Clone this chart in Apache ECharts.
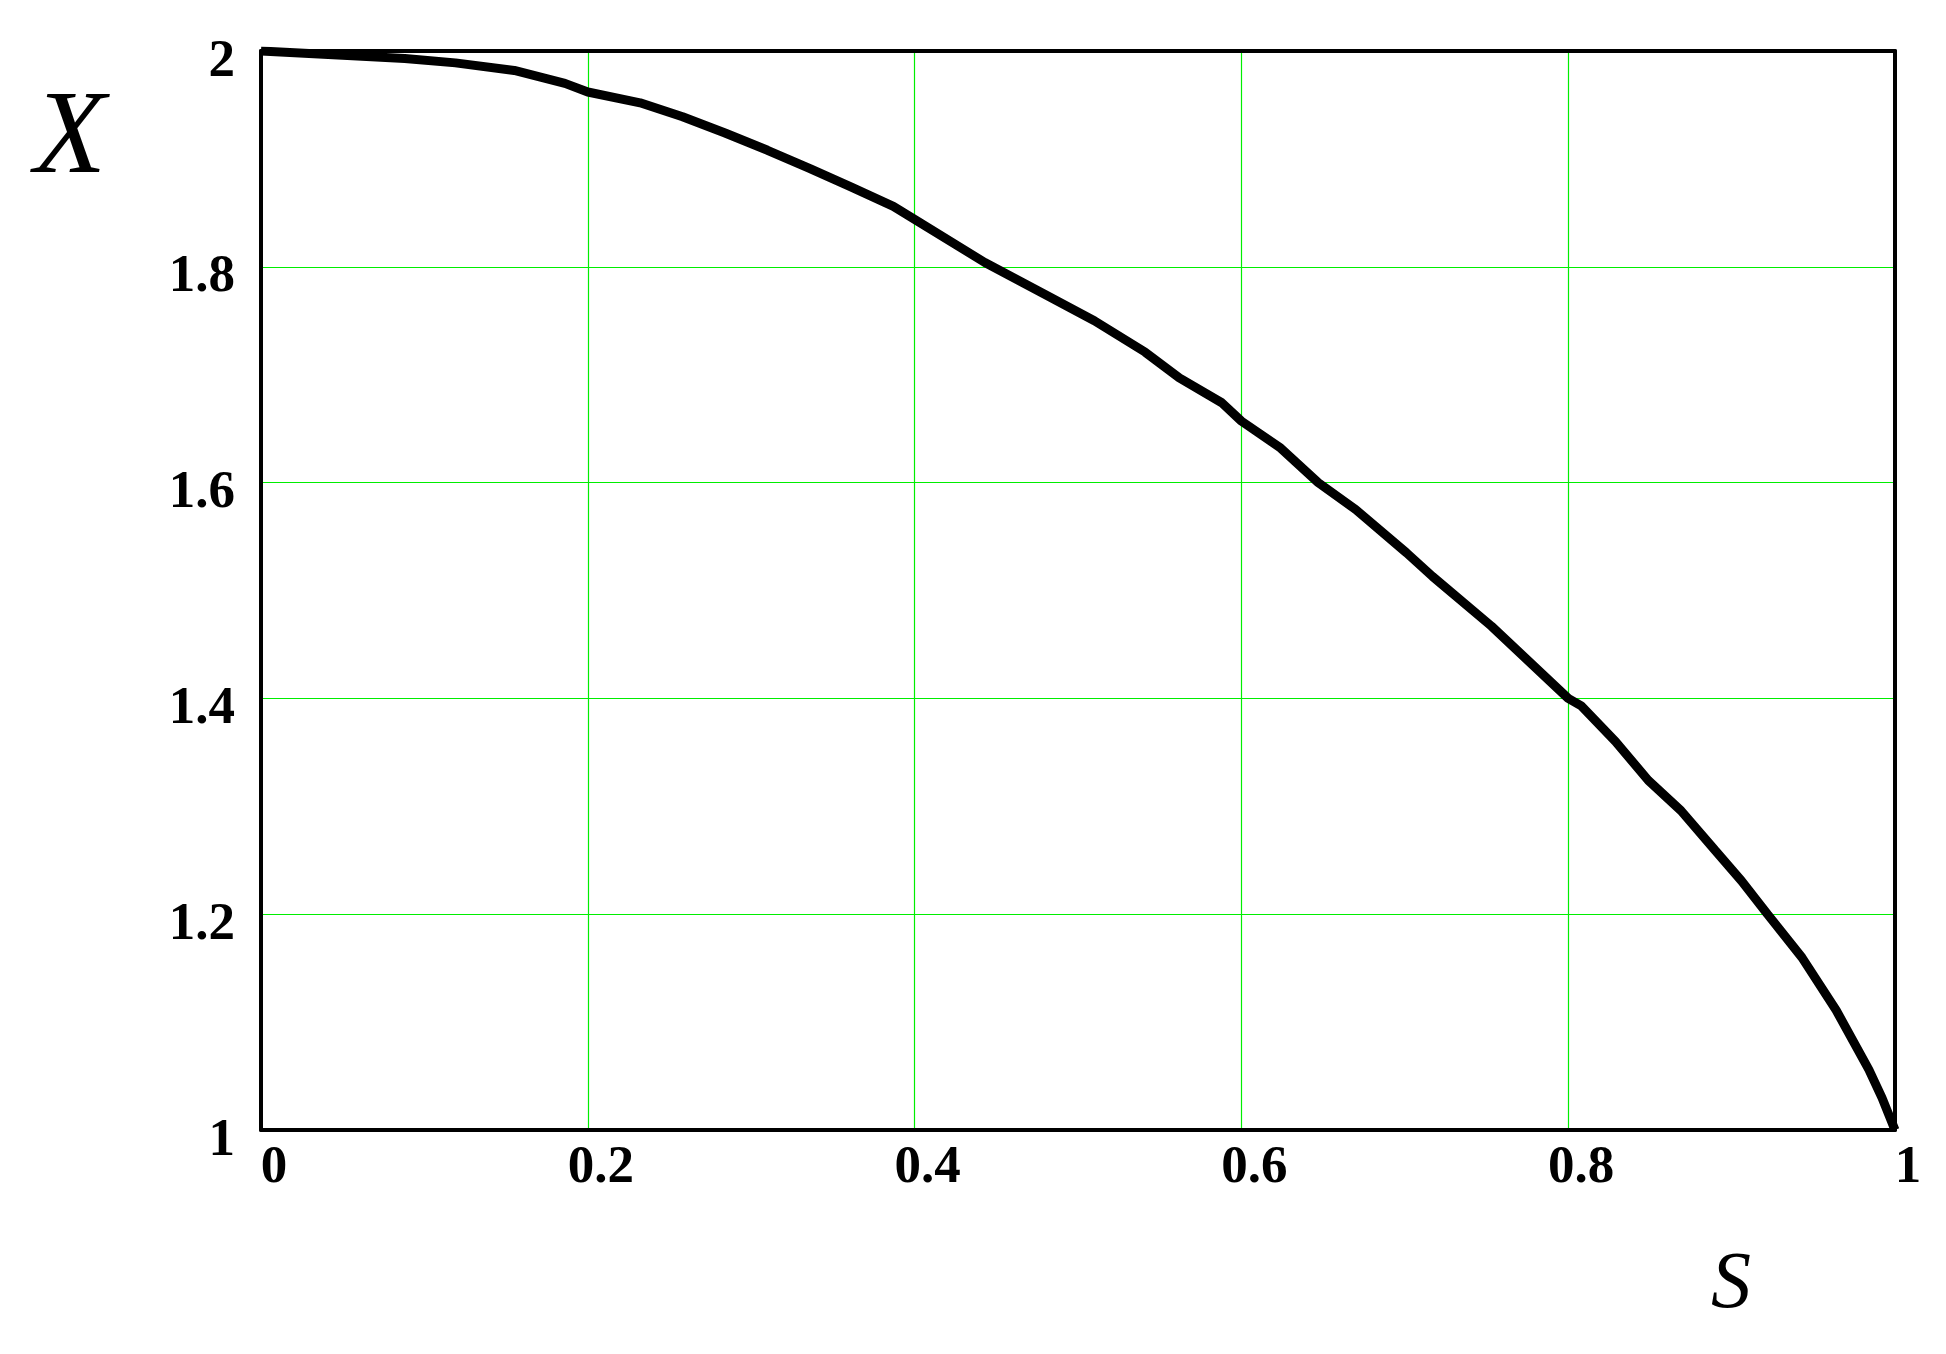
<!DOCTYPE html>
<html>
<head>
<meta charset="utf-8">
<script src="https://cdn.jsdelivr.net/npm/echarts@6/dist/echarts.min.js"></script>
<style>
html,body{margin:0;padding:0;background:#fff;}
#chart{width:1946px;height:1354px;}
</style>
</head>
<body>
<div id="chart"></div>
<script>
// Data
var sValues = [0, 0.05, 0.088, 0.119, 0.155, 0.186, 0.2, 0.232, 0.258, 0.284, 0.31, 0.336, 0.361, 0.387, 0.4, 0.443, 0.479, 0.51, 0.541, 0.562, 0.588, 0.6, 0.624, 0.647, 0.67, 0.701, 0.717, 0.753, 0.8, 0.808, 0.829, 0.849, 0.869, 0.89, 0.906, 0.922, 0.943, 0.964, 0.984, 0.992, 1.0];
var xValues = [2.0, 1.996, 1.993, 1.989, 1.982, 1.970, 1.962, 1.952, 1.939, 1.924, 1.908, 1.891, 1.874, 1.856, 1.844, 1.804, 1.775, 1.750, 1.721, 1.697, 1.674, 1.657, 1.632, 1.600, 1.575, 1.535, 1.513, 1.467, 1.400, 1.393, 1.360, 1.324, 1.296, 1.259, 1.231, 1.200, 1.160, 1.111, 1.056, 1.030, 1.0];
var xTickLabels = ['0', '0.2', '0.4', '0.6', '0.8', '1'];
var yTickLabels = ['1', '1.2', '1.4', '1.6', '1.8', '2'];
var yAxisTitle = 'X';
var xAxisTitle = 'S';

var points = sValues.map(function (s, i) { return [s, xValues[i]]; });
var serif = '"Liberation Serif", "Times New Roman", serif';
var frameLine = { show: true, onZero: false, lineStyle: { color: '#000', width: 4 } };
var gridLine = { show: true, lineStyle: { color: '#00ee00', width: 1.2 } };

var chart = echarts.init(document.getElementById('chart'));
chart.setOption({
  animation: false,
  backgroundColor: '#fff',
  grid: { left: 261, right: 51, top: 51, bottom: 224 },
  xAxis: [{
    type: 'value', min: 0, max: 1, interval: 0.2, position: 'bottom',
    axisLine: frameLine, axisTick: { show: false },
    splitLine: gridLine,
    axisLabel: {
      margin: 12, color: '#000', fontFamily: serif, fontWeight: 'bold', fontSize: 53,
      padding: [0, 0, 0, 26],
      formatter: function (v) { return xTickLabels[Math.round(v / 0.2)]; }
    }
  }, {
    type: 'value', min: 0, max: 1, interval: 0.2, position: 'top',
    axisLine: frameLine, axisTick: { show: false }, axisLabel: { show: false }, splitLine: { show: false }
  }],
  yAxis: [{
    type: 'value', min: 1, max: 2, interval: 0.2, position: 'left',
    axisLine: frameLine, axisTick: { show: false },
    splitLine: gridLine,
    axisLabel: {
      margin: 26, color: '#000', fontFamily: serif, fontWeight: 'bold', fontSize: 53,
      verticalAlign: 'top', lineHeight: 22,
      formatter: function (v) { return yTickLabels[Math.round((v - 1) / 0.2)]; }
    }
  }, {
    type: 'value', min: 1, max: 2, interval: 0.2, position: 'right',
    axisLine: frameLine, axisTick: { show: false }, axisLabel: { show: false }, splitLine: { show: false }
  }],
  graphic: [
    { type: 'text', left: 34, top: 82, style: { text: yAxisTitle, font: 'italic 118px ' + serif, fill: '#000' } },
    { type: 'text', left: 1711, top: 1246, style: { text: xAxisTitle, font: 'italic 80px ' + serif, fill: '#000' } }
  ],
  series: [{
    type: 'line',
    data: points,
    xAxisIndex: 0, yAxisIndex: 0,
    showSymbol: false,
    smooth: false,
    lineStyle: { color: '#000', width: 9 },
    z: 3
  }]
});
</script>
</body>
</html>
